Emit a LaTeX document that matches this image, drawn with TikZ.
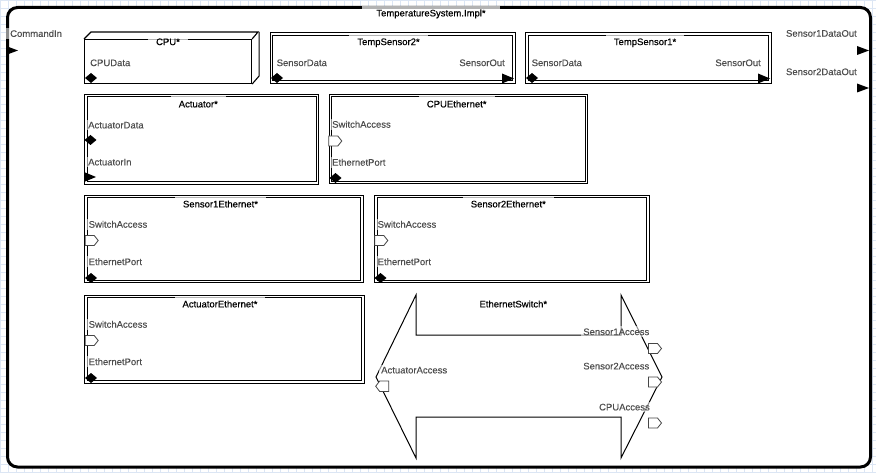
\documentclass[tikz,border=0pt]{standalone}
\usepackage{fontspec}
\setmainfont{Liberation Sans}
\newfontfamily\ttlfont[FakeBold=0.45]{Liberation Sans}
\newfontfamily\lblfont[FakeBold=0.15]{Liberation Sans}
\definecolor{labelgray}{RGB}{78,78,78}
\definecolor{portgray}{RGB}{70,70,70}
\definecolor{gridblue}{RGB}{220,230,244}
\newcommand\portDia[2]{\fill (#1-6,#2) -- (#1,#2-5) -- (#1+6,#2) -- (#1,#2+5) -- cycle;}
\newcommand\portTri[3]{\fill (#1,#2) -- (#1+12,#2/2+#3/2) -- (#1,#3) -- cycle;}
\newcommand\portPentR[3]{\filldraw[pentst] (#1,#2) -- (#1+9,#2) -- (#1+13,#2/2+#3/2) -- (#1+9,#3) -- (#1,#3) -- cycle;}
\newcommand\portPentL[3]{\filldraw[pentst] (#1+13,#2) -- (#1+4,#2) -- (#1,#2/2+#3/2) -- (#1+4,#3) -- (#1+13,#3) -- cycle;}
\newcommand\innerBox[1]{\draw[line width=1pt] ([shift={(3,3)}]#1.north west) rectangle ([shift={(-3,-3)}]#1.south east);}
\tikzset{
  txt/.style={text height=6.8pt, text depth=0pt},
  ttl/.style={txt, font=\ttlfont\fontsize{9.5}{11}\selectfont, text=black, fill=white, fill opacity=0.7, text opacity=1, inner xsep=8pt, inner ysep=5pt},
  lbl/.style={txt, font=\lblfont\fontsize{9.5}{11}\selectfont, text=labelgray, fill=white, fill opacity=0.55, text opacity=1, inner xsep=2pt, inner ysep=2pt},
  sysbox/.style={draw=black, line width=3pt, rounded corners=10pt, fill=white, anchor=north west, inner sep=0pt},
  dbox/.style={draw=black, line width=1pt, anchor=north west, inner sep=0pt},
  cubebox/.style={draw=black, line width=1.1pt, anchor=north west, inner sep=0pt},
  swshape/.style={draw=black, line width=1pt},
  pentst/.style={draw=portgray, fill=white, line width=0.8pt},
}
\begin{document}
\begin{tikzpicture}[x=1pt,y=-1pt]
\useasboundingbox (0,0) rectangle (876,473);
\fill[white] (0,0) rectangle (876,473);
\draw[gridblue, line width=0.5pt, step=8pt] (0,0) grid (876,473);

% system box
\node[sysbox, minimum width=863pt, minimum height=459.5pt] (sys) at (6,6) {};

% CPU cube
\node[cubebox, minimum width=167pt, minimum height=44pt] (cpu) at (84,39) {};
\draw[line width=1.1pt] (cpu.north west) -- ++(7,-7) -- ++(167,0) -- (cpu.north east);
\draw[line width=1.1pt] (cpu.north east) ++(7,-7) -- ++(0,44) -- (cpu.south east);

% double boxes
\node[dbox, minimum width=245pt, minimum height=50.5pt] (ts2) at (269.5,32.5) {};
\node[dbox, minimum width=245.5pt, minimum height=50.5pt] (ts1) at (525,32.5) {};
\node[dbox, minimum width=234pt, minimum height=90pt] (act) at (84,94) {};
\node[dbox, minimum width=258.5pt, minimum height=89.5pt] (cpue) at (328.5,94) {};
\node[dbox, minimum width=278.5pt, minimum height=87.5pt] (s1e) at (84,195) {};
\node[dbox, minimum width=274.5pt, minimum height=87.5pt] (s2e) at (374,195) {};
\node[dbox, minimum width=279.5pt, minimum height=87.5pt] (acte) at (84,295) {};
\innerBox{ts2}
\innerBox{ts1}
\innerBox{act}
\innerBox{cpue}
\innerBox{s1e}
\innerBox{s2e}
\innerBox{acte}

% Ethernet switch (double arrow)
\coordinate (swl) at (376,377);
\coordinate (swr) at (662,377);
\draw[swshape] (swl) -- (416,295) -- (416,335) -- (621,335) -- (621,295) -- (swr)
  -- (621,458) -- (621,417) -- (416,417) -- (416,458) -- cycle;

% port labels
\node[lbl, anchor=west, inner xsep=4pt] (lcmd) at (6,33.5) {CommandIn};
\node[lbl, anchor=east] (ls1o) at (859,33.3) {Sensor1DataOut};
\node[lbl, anchor=east] (ls2o) at (859,71.7) {Sensor2DataOut};
\node[lbl, anchor=west] (lcpud) at (88,62.7) {CPUData};
\node[lbl, anchor=west] (lts2d) at (274.5,62.7) {SensorData};
\node[lbl, anchor=east] (lts2o) at (507,62.7) {SensorOut};
\node[lbl, anchor=west] (lts1d) at (529.5,62.7) {SensorData};
\node[lbl, anchor=east] (lts1o) at (763,62.7) {SensorOut};
\node[lbl, anchor=west] (lactd) at (86,125) {ActuatorData};
\node[lbl, anchor=west] (lacti) at (86,162) {ActuatorIn};
\node[lbl, anchor=west] (lcpues) at (330,124.3) {SwitchAccess};
\node[lbl, anchor=west] (lcpuep) at (330,162.3) {EthernetPort};
\node[lbl, anchor=west] (ls1es) at (86.5,224.3) {SwitchAccess};
\node[lbl, anchor=west] (ls1ep) at (86.5,261.7) {EthernetPort};
\node[lbl, anchor=west] (ls2es) at (375.5,224.3) {SwitchAccess};
\node[lbl, anchor=west] (ls2ep) at (375.5,261.7) {EthernetPort};
\node[lbl, anchor=west] (lactes) at (86.5,324.3) {SwitchAccess};
\node[lbl, anchor=west] (lacteep) at (86.5,361.7) {EthernetPort};
\node[lbl, anchor=east] (lsw1) at (651.5,331.7) {Sensor1Access};
\node[lbl, anchor=east] (lsw2) at (651.5,366) {Sensor2Access};
\node[lbl, anchor=east] (lswc) at (652,407) {CPUAccess};
\node[lbl, anchor=west] (lswa) at (379,370) {ActuatorAccess};

% titles
\node[ttl, inner xsep=14pt, inner ysep=3.2pt] (tsys) at (431,13) {TemperatureSystem.Impl*};
\node[ttl, inner ysep=1.5pt] (tcpu) at (168,41.7) {CPU*};
\node[ttl] (tts2) at (388.5,41.7) {TempSensor2*};
\node[ttl] (tts1) at (645,41.7) {TempSensor1*};
\node[ttl] (tact) at (198.3,104) {Actuator*};
\node[ttl] (tcpue) at (456.7,104) {CPUEthernet*};
\node[ttl] (ts1e) at (220.5,204) {Sensor1Ethernet*};
\node[ttl] (ts2e) at (508.3,204) {Sensor2Ethernet*};
\node[ttl] (tacte) at (220,304) {ActuatorEthernet*};
\node[txt, font=\ttlfont\fontsize{9.5}{11}\selectfont] (tsw) at (513.3,304) {EthernetSwitch*};

% ports: diamonds
\portDia{91}{78}
\portDia{277}{78}
\portDia{532}{78}
\portDia{90.5}{140}
\portDia{335.5}{178}
\portDia{91}{278}
\portDia{380.5}{278}
\portDia{91}{378}
% ports: triangles
\portTri{6}{46}{55}
\portTri{857}{46}{55}
\portTri{857}{83.5}{92.5}
\portTri{502}{73.5}{83.5}
\portTri{758}{73.5}{83.5}
\portTri{84}{172}{182}
% ports: pentagons
\portPentR{328.8}{136}{146}
\portPentR{85.2}{235.5}{245.5}
\portPentR{374.8}{235.5}{245.5}
\portPentR{85.2}{335.5}{345.5}
\portPentR{648.5}{343.5}{353.5}
\portPentR{648.5}{377}{387}
\portPentR{648.5}{418}{428}
\portPentL{375.7}{381}{391.5}
\end{tikzpicture}
\end{document}
